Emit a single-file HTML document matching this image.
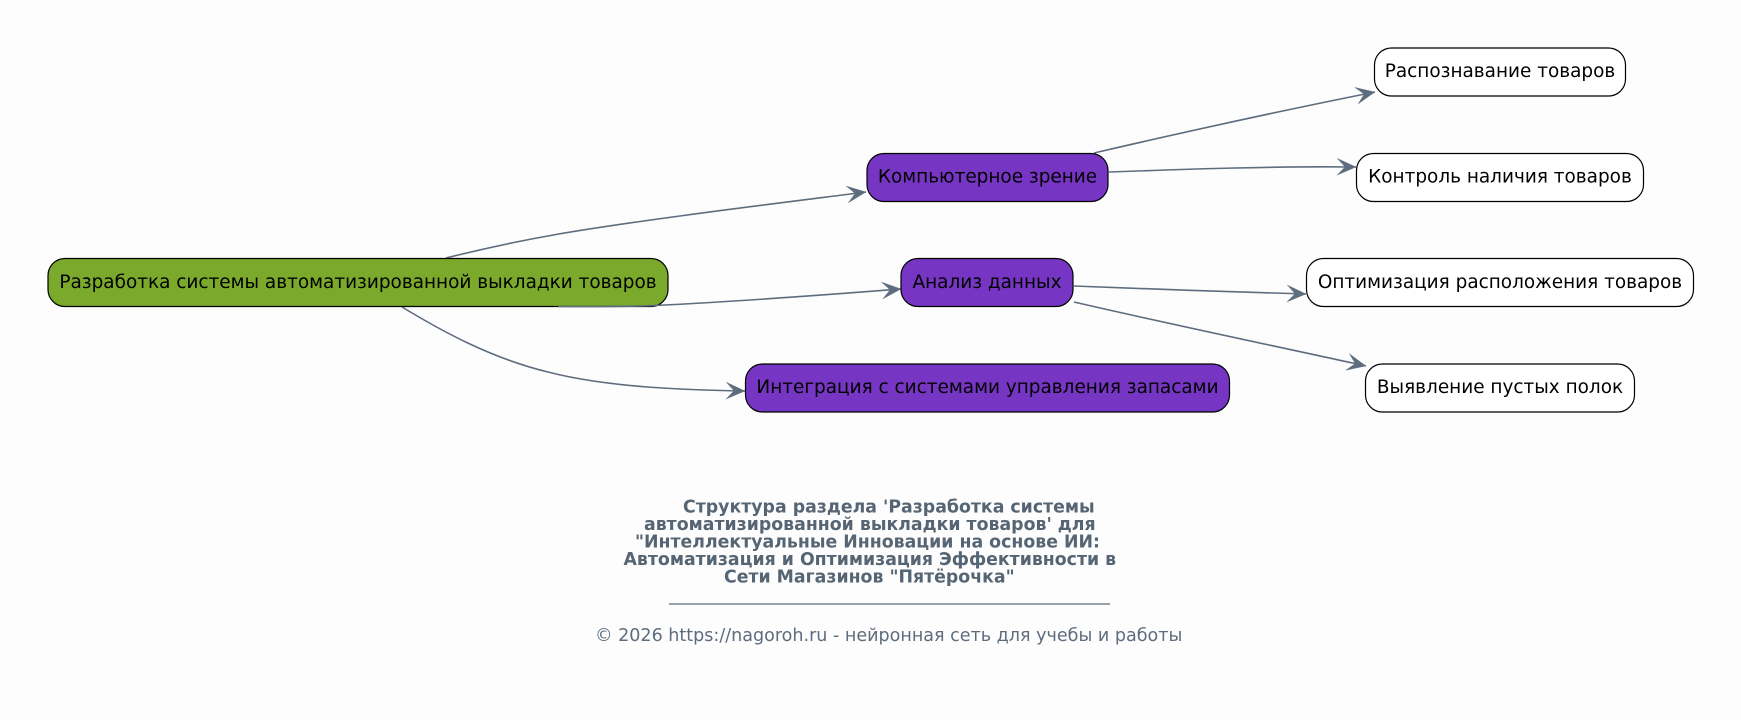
<!DOCTYPE html>
<html><head><meta charset="utf-8"><style>
html,body{margin:0;padding:0;background:#fdfdfd;width:1741px;height:720px;overflow:hidden}
svg{display:block}
text{font-family:"DejaVu Sans",sans-serif}
.n{font-size:18.45px;fill:#000;text-anchor:middle}
.t{font-size:17.33px;font-weight:bold;fill:#566573}
.e{fill:none;stroke:#5d6d7e;stroke-width:1.6;marker-end:url(#v)}
</style></head><body>
<svg width="1741" height="720" viewBox="0 0 1741 720" xmlns="http://www.w3.org/2000/svg">
<defs><marker id="v" markerUnits="userSpaceOnUse" markerWidth="24" markerHeight="24" refX="20" refY="12" orient="auto"><path d="M1,3.5 L20,12 L1,20.5 L9,12 Z" fill="#5d6d7e" stroke="#5d6d7e" stroke-width="0.3"/></marker></defs>
<rect width="1741" height="720" fill="#fdfdfd"/>
<path class="e" d="M446,258 C480,249.500 516,241.500 556,234.500 C640,220 780,203 866,192"/>
<path class="e" d="M402,307 C440,330 490,358 548,372 C610,388 690,390 745,391"/>
<rect x="48" y="258.5" width="620" height="48" rx="17" fill="#7aa92b" stroke="#000" stroke-width="1.2"/>
<path class="e" d="M558,306.500 C590,306.700 625,306.700 655,305.500 C735,301.500 825,295 901,289"/>
<path class="e" d="M1094,153 C1180,133 1290,109 1375,92"/>
<path class="e" d="M1109,172 C1190,169 1280,166 1356,167"/>
<path class="e" d="M1074,286 C1150,289 1230,292 1306,294"/>
<path class="e" d="M1074,302 C1160,322 1270,345 1366,366"/>
<rect x="867" y="153.5" width="241" height="48" rx="17" fill="#7636c3" stroke="#000" stroke-width="1.2"/>
<rect x="901" y="258.5" width="172" height="48" rx="17" fill="#7636c3" stroke="#000" stroke-width="1.2"/>
<rect x="745.5" y="364" width="484" height="48" rx="17" fill="#7636c3" stroke="#000" stroke-width="1.2"/>
<rect x="1374.5" y="48" width="251" height="48" rx="17" fill="#fff" stroke="#000" stroke-width="1.2"/>
<rect x="1356.5" y="153.5" width="287" height="48" rx="17" fill="#fff" stroke="#000" stroke-width="1.2"/>
<rect x="1306.5" y="258.5" width="387" height="48" rx="17" fill="#fff" stroke="#000" stroke-width="1.2"/>
<rect x="1365.5" y="364" width="269" height="48" rx="17" fill="#fff" stroke="#000" stroke-width="1.2"/>
<text class="n" x="358" y="288">Разработка системы автоматизированной выкладки товаров</text>
<text class="n" x="987.5" y="182.5">Компьютерное зрение</text>
<text class="n" x="987" y="288">Анализ данных</text>
<text class="n" x="987.5" y="393">Интеграция с системами управления запасами</text>
<text class="n" x="1500" y="77">Распознавание товаров</text>
<text class="n" x="1500" y="182.5">Контроль наличия товаров</text>
<text class="n" x="1500" y="288">Оптимизация расположения товаров</text>
<text class="n" x="1500" y="393">Выявление пустых полок</text>
<text class="t" x="683" y="512.500">Структура раздела 'Разработка системы</text>
<text class="t" x="644" y="530">автоматизированной выкладки товаров' для</text>
<text class="t" x="635" y="547.500">"Интеллектуальные Инновации на основе ИИ:</text>
<text class="t" x="623.5" y="565">Автоматизация и Оптимизация Эффективности в</text>
<text class="t" x="724" y="582.500">Сети Магазинов "Пятёрочка"</text>
<line x1="669" y1="604" x2="1110" y2="604" stroke="#5d6d7e" stroke-width="1.2"/>
<text x="595" y="641" font-size="17.55" fill="#5d6d7e">© 2026 https://nagoroh.ru - нейронная сеть для учебы и работы</text>
</svg>
</body></html>
